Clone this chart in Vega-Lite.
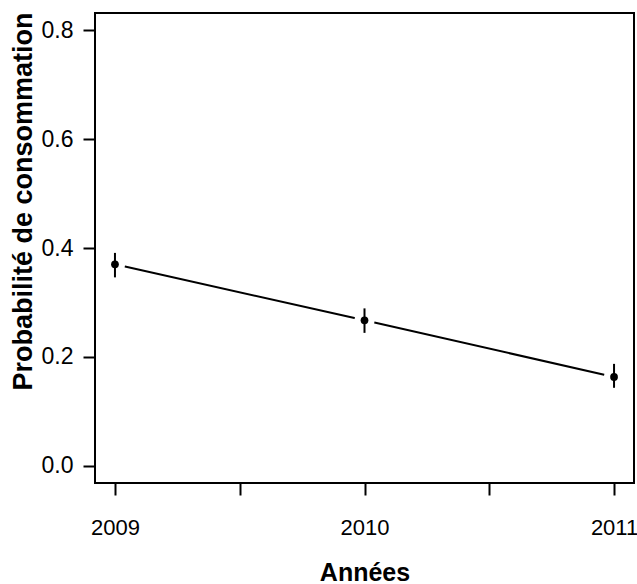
{
  "$schema": "https://vega.github.io/schema/vega-lite/v6.json",
  "width": 539,
  "height": 470,
  "autosize": {"type": "none"},
  "padding": {"left": 95, "top": 13, "right": 3, "bottom": 101},
  "background": "white",
  "config": {
    "font": "Liberation Sans",
    "view": {"stroke": "black", "strokeWidth": 2},
    "axis": {"grid": false, "domain": false, "tickColor": "black", "tickWidth": 2, "tickSize": 12, "labelColor": "black", "labelFontSize": 23, "labelFont": "Liberation Sans", "titleFont": "Liberation Sans", "titleFontSize": 25, "titleFontWeight": "bold", "titleColor": "black", "labelOverlap": false, "labelFlush": false}
  },
  "data": {
    "values": [
      {"year": 2009, "p": 0.370, "lo": 0.346, "hi": 0.391},
      {"year": 2010, "p": 0.267, "lo": 0.244, "hi": 0.289},
      {"year": 2011, "p": 0.163, "lo": 0.143, "hi": 0.187}
    ]
  },
  "encoding": {
    "x": {"field": "year", "type": "quantitative", "scale": {"domain": [2008.92, 2011.08], "nice": false, "zero": false},
      "axis": {"title": "Années", "values": [2009, 2009.5, 2010, 2010.5, 2011], "labelExpr": "datum.value % 1 === 0 ? datum.value : ''", "labelFontSize": 22, "labelPadding": 22, "titleBaseline": "alphabetic", "titleY": 97}}
  },
  "layer": [
    {"mark": {"type": "line", "color": "black", "strokeWidth": 2},
     "encoding": {"y": {"field": "p", "type": "quantitative", "scale": {"domain": [-0.032, 0.832], "nice": false, "zero": false},
       "axis": {"title": "Probabilité de consommation", "values": [0, 0.2, 0.4, 0.6, 0.8], "format": ".1f", "labelPadding": 10, "titleAngle": -90, "titleBaseline": "alphabetic", "titleFontSize": 27, "titleX": -64, "titleY": 188}}}},
    {"mark": {"type": "point", "filled": true, "color": "white", "opacity": 1, "size": 420, "shape": "circle"},
     "encoding": {"y": {"field": "p", "type": "quantitative"}}},
    {"mark": {"type": "rule", "color": "black", "strokeWidth": 2},
     "encoding": {"y": {"field": "lo", "type": "quantitative"}, "y2": {"field": "hi"}}},
    {"mark": {"type": "point", "filled": true, "color": "black", "opacity": 1, "size": 60, "shape": "circle"},
     "encoding": {"y": {"field": "p", "type": "quantitative"}}}
  ]
}
